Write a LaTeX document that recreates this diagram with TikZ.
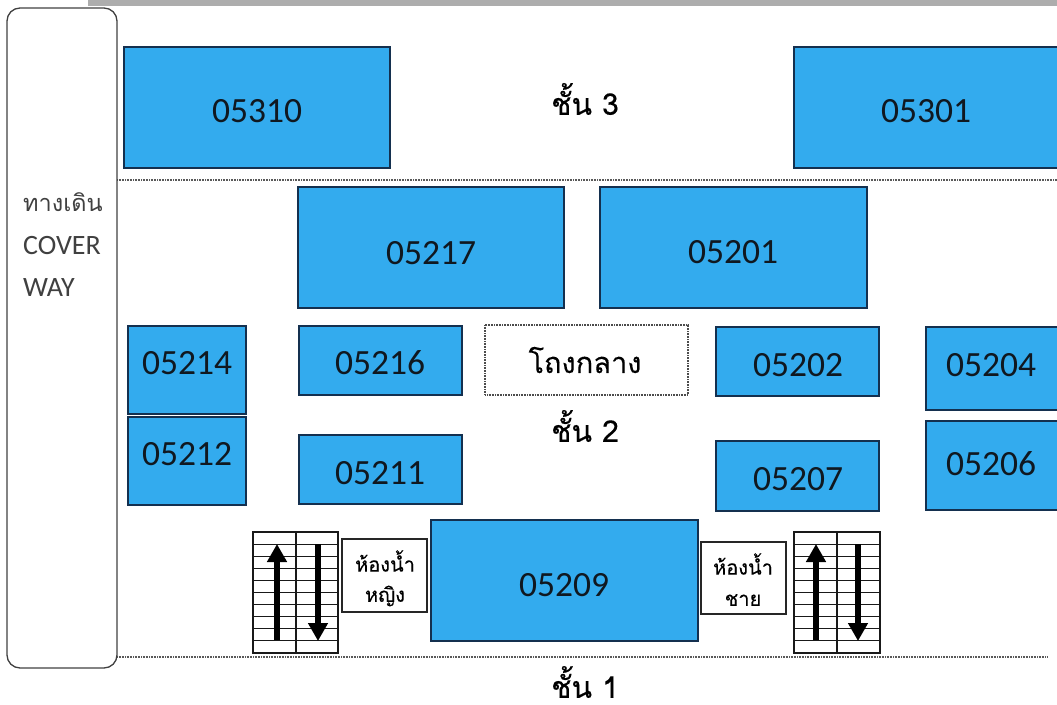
\documentclass[tikz,border=0pt]{standalone}
\usepackage{fontspec}
\setmainfont{Carlito}
\newfontfamily\thaifont[Script=Thai]{Loma}
\newfontfamily\thaibold[Script=Thai,FakeBold=0.25]{Loma}
\definecolor{roomblue}{HTML}{33ABEE}
\definecolor{roomedge}{HTML}{14304F}
\definecolor{inkdark}{HTML}{101820}
\usetikzlibrary{arrows.meta}
\tikzset{
  x=1pt,y=-1pt,
  roomtext/.style={font=\fontsize{35.5}{36}\selectfont,text=inkdark,inner sep=0pt},
  floortext/.style={font=\fontsize{30}{30}\thaibold\selectfont,text=black,inner sep=0pt},
  halltext/.style={font=\fontsize{29}{30}\thaibold\selectfont,text=black,inner sep=0pt},
  wctext/.style={font=\fontsize{20}{20}\thaibold\selectfont,text=black,inner sep=0pt},
  waytext/.style={font=\fontsize{28}{28}\selectfont,text=black!75,inner sep=0pt,anchor=west},
  waythai/.style={font=\fontsize{23.5}{26}\thaifont\selectfont,text=black!75,inner sep=0pt,anchor=west},
  roombox/.style={draw=roomedge,line width=1.3pt,fill=roomblue},
  wcbox/.style={draw=black!85,line width=1.2pt,fill=white},
  floorline/.style={draw=black!65,line width=1.2pt,dash pattern=on 1pt off 0.6pt},
  stairline/.style={draw=black!90,line width=1.1pt},
  flowarrow/.style={-{Triangle[length=18pt,width=19pt]},line width=5.5pt,draw=black},
}
% \roomat{name}{x1}{y1}{x2}{y2}{label x}{label y}{text}
\newcommand{\roomat}[8]{%
  \draw[roombox] (#2,#3) rectangle (#4,#5);
  \node[roomtext] (#1) at (#6,#7) {#8};
}
% \stairset{name}{x1}{xm}{x2}{up arrow x}{down arrow x}
\newcommand{\stairset}[6]{%
  \foreach \k in {0,...,10}{\draw[stairline] (#2,532+12.1*\k) -- (#4,532+12.1*\k);}
  \draw[stairline] (#2,532) rectangle (#4,653);
  \draw[stairline] (#3,532) -- (#3,653);
  \coordinate (#1upa) at (#5,640); \coordinate (#1upb) at (#5,544);
  \coordinate (#1dna) at (#6,544); \coordinate (#1dnb) at (#6,641);
  \draw[flowarrow] (#1upa) -- (#1upb);
  \draw[flowarrow] (#1dna) -- (#1dnb);
}
\begin{document}
\begin{tikzpicture}
\useasboundingbox (0,0) rectangle (1057,704);
\clip (0,0) rectangle (1057,704);
\fill[black!32] (88,0) rectangle (1057,6);
% floor separators
\coordinate (f3a) at (117,180); \coordinate (f3b) at (1057,180);
\coordinate (f1a) at (117,657); \coordinate (f1b) at (1048,657);
\draw[floorline] (f3a) -- (f3b);
\draw[floorline] (f1a) -- (f1b);
% cover way
\draw[draw=black!75,line width=1.3pt,rounded corners=13pt] (7,8) rectangle (117,668);
\node[waythai] (way1) at (23,202) {ทางเดิน};
\node[waytext] (way2) at (23,246) {COVER};
\node[waytext] (way3) at (23,288) {WAY};
% rooms
\roomat{r05310}{124}{47}{390}{168}{257}{111}{05310}
\roomat{r05301}{794}{47}{1065}{168}{926}{111}{05301}
\roomat{r05217}{298}{187}{564}{308}{431}{253}{05217}
\roomat{r05201}{600}{187}{867}{308}{733}{252}{05201}
\roomat{r05214}{128}{326}{246}{414}{187}{363}{05214}
\roomat{r05212}{128}{417}{246}{505}{187}{454}{05212}
\roomat{r05216}{299}{326}{462}{395}{380}{363}{05216}
\roomat{r05211}{299}{435}{462}{504}{380}{473}{05211}
\roomat{r05202}{716}{327}{879}{396}{798}{365}{05202}
\roomat{r05207}{716}{441}{879}{511}{798}{479}{05207}
\roomat{r05204}{926}{327}{1065}{410}{991}{365}{05204}
\roomat{r05206}{926}{421}{1065}{510}{991}{464}{05206}
\roomat{r05209}{431}{520}{698}{641}{564}{585}{05209}
% central hall
\draw[draw=black!70,line width=1.2pt,dash pattern=on 1pt off 0.6pt,fill=white] (485,325) rectangle (688,395);
\node[halltext] (hall) at (585,360) {โถงกลาง};
% toilets
\draw[wcbox] (342,539) rectangle (427,612);
\node[wctext] (wcf1) at (385,561) {ห้องน้ำ};
\node[wctext] (wcf2) at (385,596) {หญิง};
\draw[wcbox] (701,542) rectangle (786,614);
\node[wctext] (wcm1) at (743,564) {ห้องน้ำ};
\node[wctext] (wcm2) at (743,600) {ชาย};
% stairs
\stairset{sl}{253}{296}{338}{277}{318}
\stairset{sr}{794}{837}{880}{816}{858}
% floor labels
\node[floortext] (fl3) at (585,99) {ชั้น 3};
\node[floortext] (fl2) at (585,426) {ชั้น 2};
\node[floortext] (fl1) at (585,682) {ชั้น 1};
\end{tikzpicture}
\end{document}
